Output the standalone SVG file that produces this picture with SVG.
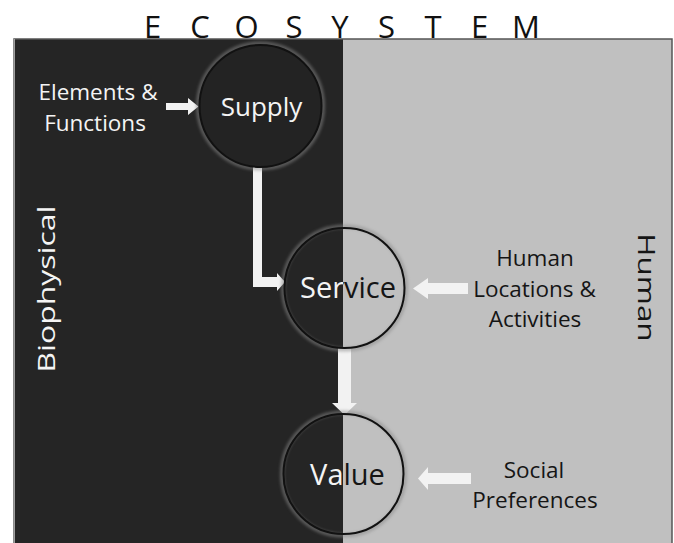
<svg xmlns="http://www.w3.org/2000/svg" width="674" height="543" viewBox="0 0 674 543">
  <defs>
    <clipPath id="clipL"><rect x="0" y="0" width="343" height="543"/></clipPath>
    <clipPath id="clipR"><rect x="343" y="0" width="331" height="543"/></clipPath>
    <filter id="glow" x="-20%" y="-20%" width="140%" height="140%">
      <feGaussianBlur stdDeviation="1.5"/>
    </filter>
  </defs>
  <style>
    text { font-family: "Open Sans", "Noto Sans", "DejaVu Sans", sans-serif; }
    .title { font-size: 31px; fill: #111; text-anchor: middle; }
    .w { fill: #f4f4f4; }
    .k { fill: #151515; }
    .node { font-size: 29px; text-anchor: middle; }
    .lbl { font-size: 22.5px; text-anchor: middle; }
    .side { font-size: 24px; text-anchor: middle; }
    .ring { fill: none; stroke: #111; stroke-width: 2; }
    .halo { fill: none; stroke: #8a8a8a; stroke-width: 4; opacity: 0.55; filter: url(#glow); }
    .arrow { fill: #f2f2f2; stroke: none; }
  </style>
  <rect width="674" height="543" fill="#ffffff"/>

  <g id="background">
    <rect x="14" y="39" width="329" height="510" fill="#252525"/>
    <rect x="343" y="39" width="329" height="510" fill="#c0c0c0"/>
    <path d="M14 549 V39 H672 V549" fill="none" stroke="#555" stroke-width="1.5"/>
    <line x1="14.3" y1="39" x2="14.3" y2="543" stroke="#cfcfcf" stroke-width="0.8"/>
  </g>

  <g id="title">
    <text class="title" x="152.5" y="38">E</text>
    <text class="title" x="200" y="38">C</text>
    <text class="title" x="246.5" y="38">O</text>
    <text class="title" x="294" y="38">S</text>
    <text class="title" x="340" y="38">Y</text>
    <text class="title" x="386.5" y="38">S</text>
    <text class="title" x="433" y="38">T</text>
    <text class="title" x="479.5" y="38">E</text>
    <text class="title" x="526" y="38">M</text>
  </g>

  <g id="label-biophysical">
    <text class="side w" transform="translate(55,289) rotate(-90) scale(1.33,1)">Biophysical</text>
  </g>
  <g id="label-human">
    <text class="side k" transform="translate(638,287.5) rotate(90) scale(1.31,1)">Human</text>
  </g>

  <g id="connectors">
    <polygon class="arrow" points="166,103 188,103 188,98 198.5,106.5 188,115 188,110 166,110"/>
    <polygon class="arrow" points="253,167 262,167 262,277 277,277 277,273 285,282 277,291 277,287 253,287"/>
    <polygon class="arrow" points="468,283 428,283 428,278 413,288.5 428,299 428,294 468,294"/>
    <polygon class="arrow" points="338,348 351,348 351,403 357,403 344.5,415 332,403 338,403"/>
    <polygon class="arrow" points="471,473 428,473 428,467 418,478.5 428,490 428,484 471,484"/>
  </g>

  <g id="node-supply">
    <circle class="halo" cx="260.5" cy="106" r="62.5"/>
    <circle cx="260.5" cy="106" r="61" fill="#232323" stroke="#111" stroke-width="2"/>
    <text class="node w" x="261.5" y="115.5" style="font-size:26px">Supply</text>
  </g>

  <g id="node-service">
    <circle class="halo" cx="344.5" cy="288" r="61.5"/>
    <circle class="ring" cx="344.5" cy="288" r="60"/>
    <text class="node w" x="348" y="298" clip-path="url(#clipL)">Service</text>
    <text class="node k" x="348" y="298" clip-path="url(#clipR)">Service</text>
  </g>

  <g id="node-value">
    <circle class="halo" cx="343.5" cy="474" r="61.5"/>
    <circle class="ring" cx="343.5" cy="474" r="60"/>
    <text class="node w" x="347.5" y="485" clip-path="url(#clipL)">Value</text>
    <text class="node k" x="347.5" y="485" clip-path="url(#clipR)">Value</text>
  </g>

  <g id="node-elements">
    <text class="lbl w" x="98" y="100">Elements &amp;</text>
    <text class="lbl w" x="95" y="130.5">Functions</text>
  </g>

  <g id="node-human-locations">
    <text class="lbl k" x="535" y="266">Human</text>
    <text class="lbl k" x="534.5" y="297">Locations &amp;</text>
    <text class="lbl k" x="535" y="327">Activities</text>
  </g>

  <g id="node-social">
    <text class="lbl k" x="534" y="478">Social</text>
    <text class="lbl k" x="535" y="508">Preferences</text>
  </g>
</svg>
